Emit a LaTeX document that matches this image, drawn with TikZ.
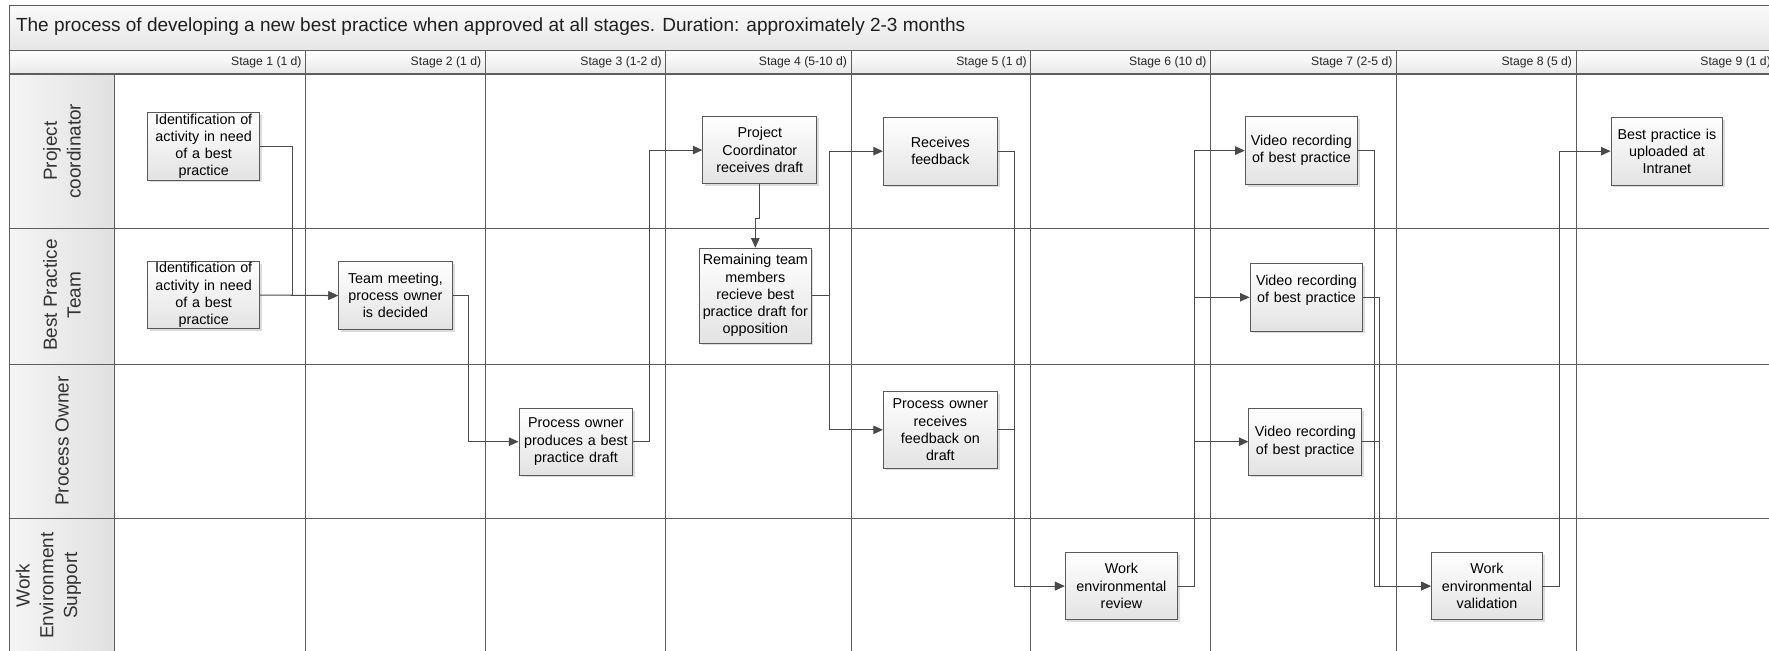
\documentclass[tikz,border=0pt]{standalone}
\usepackage{fontspec}
\setmainfont{Liberation Sans}
\usetikzlibrary{arrows.meta,shadows}

\definecolor{gridc}{HTML}{5E5E5E}
\definecolor{linec}{HTML}{4A4A4A}
\definecolor{boxc}{HTML}{5A5A5A}
\newcommand\actfont{\fontsize{12.7}{15.3}\selectfont}
\newcommand\stgfont{\fontsize{10.8}{12.5}\selectfont}
\newcommand\lanelblfont{\fontsize{16.8}{21}\selectfont}
\newcommand\ttlfont{\fontsize{16.85}{20}\selectfont}

\begin{document}
\begin{tikzpicture}[x=1pt,y=-1pt,
  grid/.style={draw=gridc, line width=0.9pt},
  act/.style={draw=boxc, line width=0.8pt, top color=white, bottom color=black!11,
    inner xsep=1pt, inner ysep=0pt, align=center, font=\actfont,
    drop shadow={shadow xshift=2pt, shadow yshift=-2pt, fill=black!30, opacity=0.45}},
  flow/.style={draw=linec, line width=0.9pt, -{Triangle[length=8.5pt,width=7.5pt]}},
  stage/.style={anchor=east, font=\stgfont, inner sep=0pt, text=black!85},
  lane/.style={rotate=90, align=center, font=\lanelblfont, text=black!80},
]
\useasboundingbox (0,0) rectangle (1568,577);
\clip (0,0) rectangle (1568,577);

% title band, stage header row and lane label column
\shade[top color=black!2, bottom color=black!10] (8.2,5.3) rectangle (1580,45.2);
\shade[top color=white, bottom color=black!9] (8.2,45.2) rectangle (1580,65.6);
\shade[left color=black!4, right color=black!12] (8.2,65.6) rectangle (101.5,590);

% frame and swimlane grid
\draw[grid] (1580,5.3) -- (8.2,5.3) -- (8.2,590);
\foreach \y in {45.2,65.6,202.7,322.7,459.5}
  \draw[grid] (8.2,\y) -- (1580,\y);
\draw[grid] (101.5,65.6) -- (101.5,590);
\foreach \x in {271,430.2,590.2,754.4,913.8,1073,1237.6,1397,1573}
  \draw[grid] (\x,45.2) -- (\x,590);

% title
\node[anchor=base west, font=\ttlfont, inner sep=0pt, text=black!88] (title) at (14,28.3)
  {The process of developing a new best practice when approved at all stages. Duration: approximately 2-3 months};

% stage headers
\node[stage] (s1) at (267.5,55.6) {Stage 1 (1 d)};
\node[stage] (s2) at (426.7,55.6) {Stage 2 (1 d)};
\node[stage] (s3) at (586.7,55.6) {Stage 3 (1-2 d)};
\node[stage] (s4) at (750.9,55.6) {Stage 4 (5-10 d)};
\node[stage] (s5) at (910.3,55.6) {Stage 5 (1 d)};
\node[stage] (s6) at (1069.5,55.6) {Stage 6 (10 d)};
\node[stage] (s7) at (1234.4,55.6) {Stage 7 (2-5 d)};
\node[stage] (s8) at (1393.6,55.6) {Stage 8 (5 d)};
\node[stage] (s9) at (1569.8,55.6) {Stage 9 (1 d)};

% lane labels
\node[lane] (l1) at (55,134) {Project\\coordinator};
\node[lane] (l2) at (55,261.5) {Best Practice\\Team};
\node[lane] (l3) at (55,391) {Process Owner};
\node[lane] (l4) at (43,519) {Work\\Environment\\Support};

% activities
\node[act, text width=97pt, minimum height=60pt] (n1) at (180.5,129.6)
  {Identification of\\activity in need\\of a best\\practice};
\node[act, text width=97pt, minimum height=59pt] (n2) at (180.5,261.5)
  {Identification of\\activity in need\\of a best\\practice};
\node[act, text width=99pt, minimum height=60pt] (n3) at (350.5,262)
  {Team meeting,\\process owner\\is decided};
\node[act, text width=99pt, minimum height=59pt] (n4) at (510.5,391.5)
  {Process owner\\produces a best\\practice draft};
\node[act, text width=99pt, minimum height=60pt] (n5) at (673.5,133)
  {Project\\Coordinator\\receives draft};
\node[act, text width=97pt, minimum height=84pt] (n6) at (669.5,262)
  {Remaining team\\members\\recieve best\\practice draft for\\opposition};
\node[act, text width=99pt, minimum height=60pt] (n7) at (833.5,134)
  {Receives\\feedback};
\node[act, text width=99pt, minimum height=68pt] (n8) at (833.5,381)
  {Process owner\\receives\\feedback on\\draft};
\node[act, text width=98pt, minimum height=59pt] (n9) at (994,519.5)
  {Work\\environmental\\review};
\node[act, text width=97.5pt, minimum height=60pt] (n10) at (1153.5,133.5)
  {Video recording\\of best practice};
\node[act, text width=98pt, minimum height=60pt] (n11) at (1158,263.5)
  {Video recording\\of best practice\\\mbox{}};
\node[act, text width=98pt, minimum height=59pt] (n12) at (1157,391.5)
  {Video recording\\of best practice};
\node[act, text width=97pt, minimum height=59pt] (n13) at (1318,519.5)
  {Work\\environmental\\validation};
\node[act, text width=97pt, minimum height=60pt] (n14) at (1477.5,134)
  {Best practice is\\uploaded at\\Intranet};

% routing columns of the connectors
\coordinate (j1) at (259.2,0);
\coordinate (j2) at (415.6,0);
\coordinate (j3) at (575.4,0);
\coordinate (j4) at (735.4,0);
\coordinate (j5) at (899.3,0);
\coordinate (j6) at (1058.4,0);
\coordinate (j7) at (1218.5,0);
\coordinate (j8) at (1222.6,0);
\coordinate (j9) at (1382.4,0);
\coordinate (jg) at (0,193.8);

% connectors
\draw[flow] (n1.east) -| (j1 |- n3.west) -- (n3.west);
\draw[flow] (n2.east) -- (n3.west);
\draw[flow] (n3.east) -| (j2 |- n4.west) -- (n4.west);
\draw[flow] (n4.east) -| (j3 |- n5.west) -- (n5.west);
\draw[flow] (n5.south) -- (n5.south |- jg) -| (n6.north);
\draw[flow] (n6.east) -| (j4 |- n7.west) -- (n7.west);
\draw[flow] (n6.east) -| (j4 |- n8.west) -- (n8.west);
\draw[flow] (n7.east) -| (j5 |- n9.west) -- (n9.west);
\draw[flow] (n8.east) -| (j5 |- n9.west) -- (n9.west);
\draw[flow] (n9.east) -| (j6 |- n10.west) -- (n10.west);
\draw[flow] (n9.east) -| (j6 |- n11.west) -- (n11.west);
\draw[flow] (n9.east) -| (j6 |- n12.west) -- (n12.west);
\draw[flow] (n10.east) -| (j7 |- n13.west) -- (n13.west);
\draw[flow] (n11.east) -| (j8 |- n13.west) -- (n13.west);
\draw[flow] (n12.east) -| (j8 |- n13.west) -- (n13.west);
\draw[flow] (n13.east) -| (j9 |- n14.west) -- (n14.west);
\end{tikzpicture}
\end{document}
